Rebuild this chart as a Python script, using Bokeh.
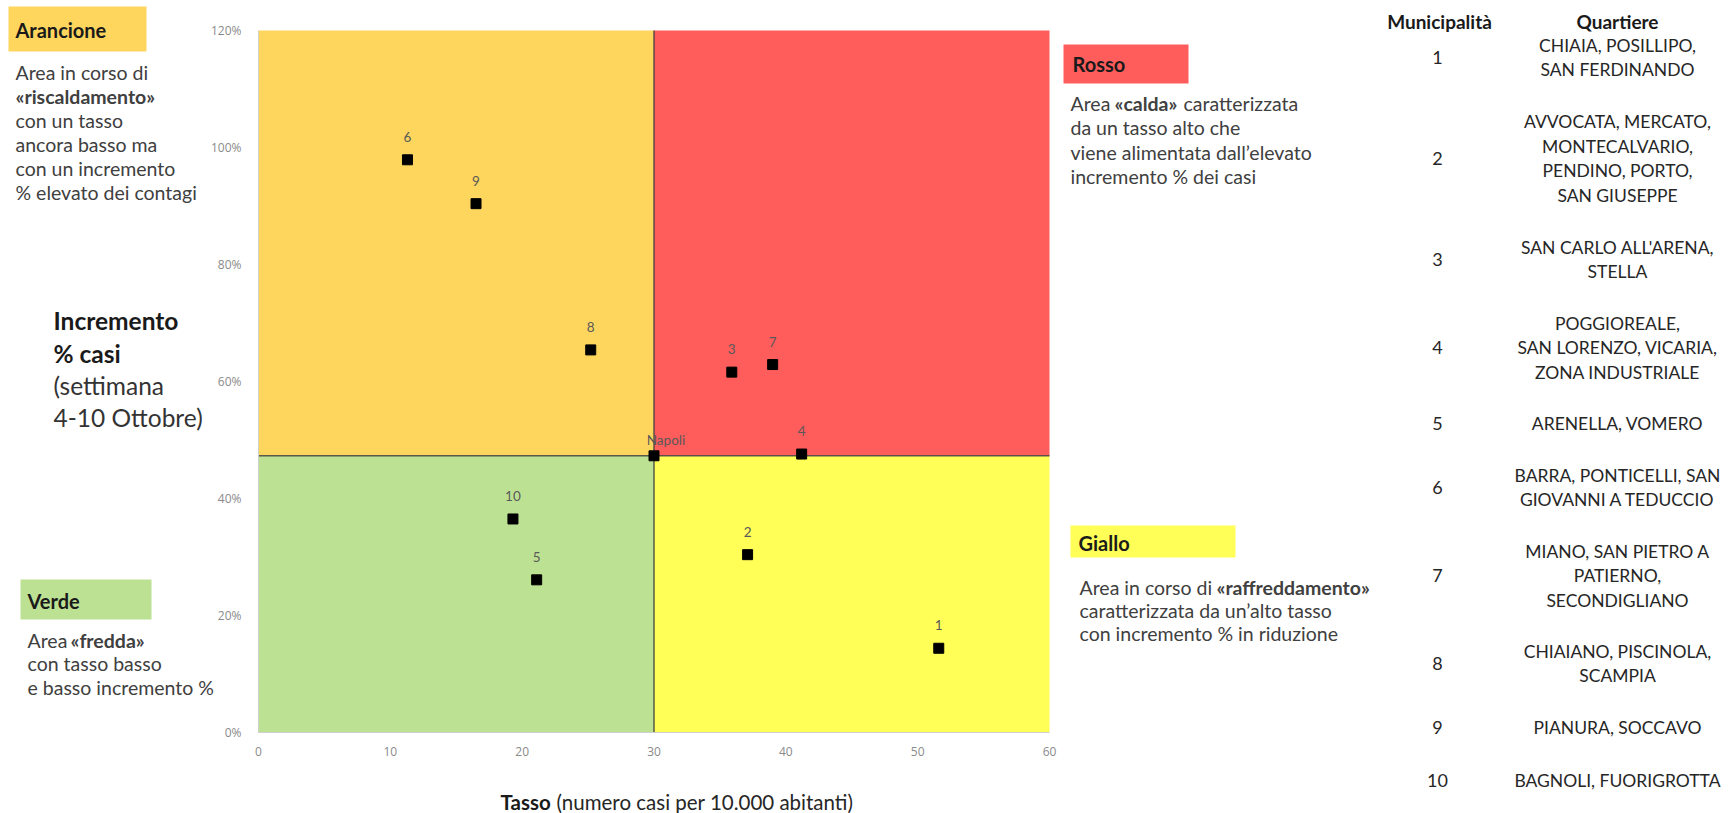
from bokeh.plotting import figure
from bokeh.models import Range1d, LinearAxis, FixedTicker, PrintfTickFormatter, ColumnDataSource
from bokeh.embed import file_html
from bokeh.resources import INLINE
from bokeh.core.properties import value

# ---------------- data ----------------
municipalita = ["1", "2", "3", "4", "5", "6", "7", "8", "9", "10"]
tasso = [51.6, 37.1, 35.9, 41.2, 21.1, 11.3, 39.0, 25.2, 16.5, 19.3]
incremento = [14.4, 30.4, 61.6, 47.6, 26.1, 97.9, 62.9, 65.4, 90.4, 36.5]
napoli_tasso = 30.0
napoli_incremento = 47.3
x_ticks = [0, 10, 20, 30, 40, 50, 60]
y_ticks = [0, 20, 40, 60, 80, 100, 120]
quartieri = [
    ["CHIAIA, POSILLIPO,", "SAN FERDINANDO"],
    ["AVVOCATA, MERCATO,", "MONTECALVARIO,", "PENDINO, PORTO,", "SAN GIUSEPPE"],
    ["SAN CARLO ALL'ARENA,", "STELLA"],
    ["POGGIOREALE,", "SAN LORENZO, VICARIA,", "ZONA INDUSTRIALE"],
    ["ARENELLA, VOMERO"],
    ["BARRA, PONTICELLI, SAN", "GIOVANNI A TEDUCCIO"],
    ["MIANO, SAN PIETRO A", "PATIERNO,", "SECONDIGLIANO"],
    ["CHIAIANO, PISCINOLA,", "SCAMPIA"],
    ["PIANURA, SOCCAVO"],
    ["BAGNOLI, FUORIGROTTA"],
]

# ---------------- style / layout ----------------
FONT = "Lato"
ORANGE, RED, YELLOW, GREEN = "#FED65E", "#FF5C5C", "#FFFF57", "#BCE193"
X0, X1, Y0, Y1 = 0, 60, 0, 120
W, H = 1733, 813
FL, FR, FT, FB = 258, 1049, 30, 732  # plot area on the page (px)
BODY = 19.5
TITLE = 20

# page-pixel ranges (y grows downwards) cover the whole canvas
p = figure(width=W, height=H, output_backend="svg", toolbar_location=None,
           x_range=Range1d(0, W), y_range=Range1d(H, 0),
           x_axis_location=None, y_axis_location=None,
           min_border=0, min_border_left=0, min_border_right=0,
           min_border_top=0, min_border_bottom=0)
p.outline_line_color = None
p.grid.visible = False
p.background_fill_color = "white"
p.border_fill_color = "white"

# chart ranges mapped onto the plot area
sx = (X1 - X0) / (FR - FL)
sy = (Y1 - Y0) / (FB - FT)
p.extra_x_ranges = {"q": Range1d(X0 - FL * sx, X1 + (W - FR) * sx)}
p.extra_y_ranges = {"q": Range1d(Y0 - (H - FB) * sy, Y1 + FT * sy)}
Q = dict(x_range_name="q", y_range_name="q")

# quadrants derived from Napoli's values
p.quad(left=[X0, napoli_tasso, X0, napoli_tasso],
       right=[napoli_tasso, X1, napoli_tasso, X1],
       bottom=[napoli_incremento, napoli_incremento, Y0, Y0],
       top=[Y1, Y1, napoli_incremento, napoli_incremento],
       fill_color=[ORANGE, RED, GREEN, YELLOW], line_color=None, **Q)
p.segment(x0=[napoli_tasso, X0], y0=[Y0, napoli_incremento],
          x1=[napoli_tasso, X1], y1=[Y1, napoli_incremento],
          line_color="#404040", line_width=1.5, line_alpha=0.85, **Q)

src = ColumnDataSource(dict(x=tasso, y=incremento, t=municipalita))
p.scatter("x", "y", source=src, marker="square", size=10, color="black", **Q)
p.text("x", "y", text="t", source=src, y_offset=-23, text_align="center",
       text_baseline="middle", text_font=value(FONT), text_font_size="13.5px",
       text_color="#595959", **Q)
p.scatter([napoli_tasso], [napoli_incremento], marker="square", size=10, color="black", **Q)
p.text([napoli_tasso], [napoli_incremento], text=["Napoli"], x_offset=12, y_offset=-16,
       text_align="center", text_baseline="middle", text_font=value(FONT),
       text_font_size="13.5px", text_color="#595959", **Q)

# axes of the chart
xa = LinearAxis(fixed_location=Y0, bounds=(X0, X1), ticker=FixedTicker(ticks=x_ticks), **Q)
ya = LinearAxis(fixed_location=X0, bounds=(Y0, Y1), ticker=FixedTicker(ticks=y_ticks),
                formatter=PrintfTickFormatter(format="%d%%"), **Q)
for ax in (xa, ya):
    ax.axis_line_color = "#cfcfcf"
    ax.major_tick_line_color = None
    ax.minor_tick_line_color = None
    ax.major_tick_out = 0
    ax.major_tick_in = 0
    ax.major_label_text_font = "Open Sans"
    ax.major_label_text_font_size = "12px"
    ax.major_label_text_color = "#8a8a8a"
xa.major_label_standoff = 14
ya.major_label_standoff = 17
p.add_layout(xa, "below")
p.add_layout(ya, "left")


def lab(text, px, py, size=BODY, bold=False, color="#404040", align="left"):
    p.text(x=[px], y=[py], text=[text], text_font=value(FONT),
           text_font_size=f"{size}px",
           text_font_style="bold" if bold else "normal",
           text_color=color, text_align=align, text_baseline="middle")


def box(l, t, r, b, color):
    p.quad(left=[l], right=[r], top=[t], bottom=[b], fill_color=color, line_color=None)


# x axis title
lab("Tasso", 500, 801, size=20.5, bold=True, color="#1a1a1a")
lab("(numero casi per 10.000 abitanti)", 556, 801, size=20.5, color="#262626")

# y axis title
lab("Incremento", 53, 320, size=24.5, bold=True, color="#1a1a1a")
lab("% casi", 53, 353, size=24.5, bold=True, color="#1a1a1a")
lab("(settimana", 53, 385, size=24.5, color="#333333")
lab("4-10 Ottobre)", 53, 417, size=24.5, color="#333333")

# Arancione
box(8, 6, 146, 51, ORANGE)
lab("Arancione", 15, 29, size=TITLE, bold=True, color="#1a1a1a")
lab("Area in corso di", 15, 72)
lab("«riscaldamento»", 15, 96, bold=True)
lab("con un tasso", 15, 120)
lab("ancora basso ma", 15, 144)
lab("con un incremento", 15, 168)
lab("% elevato dei contagi", 15, 192)

# Verde
box(20, 579, 151, 619, GREEN)
lab("Verde", 27, 600, size=TITLE, bold=True, color="#1a1a1a")
lab("Area", 27, 640)
lab("«fredda»", 70, 640, bold=True)
lab("con tasso basso", 27, 663)
lab("e basso incremento %", 27, 687)

# Rosso
box(1063, 44, 1188, 83, RED)
lab("Rosso", 1072, 63, size=TITLE, bold=True, color="#1a1a1a")
lab("Area", 1070, 103)
lab("«calda»", 1114, 103, bold=True)
lab("caratterizzata", 1183, 103)
lab("da un tasso alto che", 1070, 127)
lab("viene alimentata dall\u2019elevato", 1070, 152)
lab("incremento % dei casi", 1070, 176)

# Giallo
box(1070, 525, 1235, 557, YELLOW)
lab("Giallo", 1078, 542, size=TITLE, bold=True, color="#1a1a1a")
lab("Area in corso di", 1079, 587)
lab("«raffreddamento»", 1216, 587, bold=True)
lab("caratterizzata da un\u2019alto tasso", 1079, 610)
lab("con incremento % in riduzione", 1079, 633)

# table
lab("Municipalità", 1439, 21, size=19, bold=True, color="#1a1a1a", align="center")
lab("Quartiere", 1617, 21, size=19, bold=True, color="#1a1a1a", align="center")
row_centers = [57, 158, 259, 347, 423, 487, 575, 663, 727, 780]
line_gap = 24.5
for num, lines, yc in zip(municipalita, quartieri, row_centers):
    lab(num, 1437, yc, size=18, color="#262626", align="center")
    n = len(lines)
    for i, line in enumerate(lines):
        lab(line, 1617, yc + (i - (n - 1) / 2) * line_gap, size=17.5, color="#262626",
            align="center")

open("out.html", "w").write(file_html(p, INLINE))
